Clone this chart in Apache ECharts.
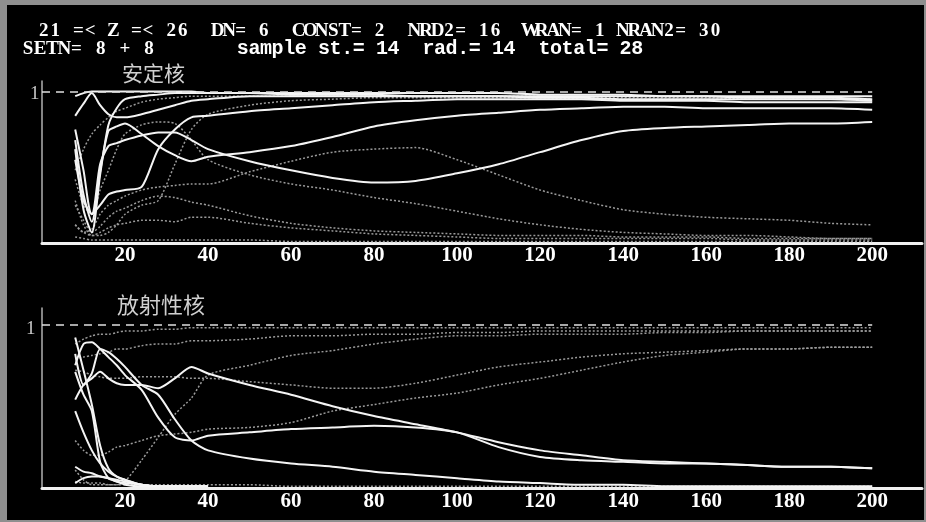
<!DOCTYPE html>
<html>
<head>
<meta charset="utf-8">
<script src="https://cdn.jsdelivr.net/npm/echarts@6/dist/echarts.min.js"></script>
<style>
html,body{margin:0;padding:0;background:#000;}
#myChart{width:926px;height:522px;}
</style>
</head>
<body>
<div id="myChart"></div>
<script>
// x positions shared by every curve
var xs = [8, 10, 12, 14, 16, 18, 20, 24, 28, 32, 36, 40, 50, 60, 70, 80, 90, 100, 110, 120, 130, 140, 150, 160, 170, 180, 190, 200];
var xTicks = [20, 40, 60, 80, 100, 120, 140, 160, 180, 200];

// 安定核 (upper panel) - solid curves
var stableSolid = [
  [0.97,0.99,1.0,1.0,1.0,1.0,1.0,1.0,1.0,1.0,1.0,0.99,0.99,0.99,0.99,0.99,0.99,0.99,0.99,0.98,0.98,0.98,0.97,0.97,0.97,0.97,0.97,0.97],
  [0.84,0.92,0.99,0.91,0.85,0.83,0.83,0.85,0.88,0.91,0.94,0.95,0.97,0.97,0.97,0.97,0.97,0.97,0.97,0.96,0.96,0.95,0.95,0.95,0.95,0.95,0.95,0.94],
  [0.75,0.48,0.19,0.25,0.32,0.34,0.35,0.37,0.62,0.75,0.83,0.84,0.87,0.89,0.91,0.93,0.94,0.95,0.95,0.95,0.95,0.94,0.94,0.94,0.93,0.93,0.93,0.93],
  [0.68,0.32,0.14,0.47,0.74,0.77,0.79,0.72,0.64,0.58,0.54,0.57,0.60,0.64,0.70,0.77,0.81,0.84,0.86,0.88,0.89,0.90,0.90,0.89,0.89,0.89,0.89,0.88],
  [0.55,0.28,0.19,0.52,0.64,0.66,0.68,0.71,0.73,0.73,0.68,0.62,0.54,0.48,0.43,0.40,0.41,0.46,0.52,0.60,0.68,0.74,0.76,0.77,0.78,0.79,0.79,0.80],
  [0.62,0.22,0.07,0.45,0.78,0.89,0.95,0.97,0.98,0.99,0.99,0.99,0.99,0.98,0.98,0.98,0.97,0.97,0.97,0.97,0.97,0.97,0.97,0.97,0.96,0.96,0.96,0.95]
];
// 安定核 - dotted curves
var stableDot = [
  [0.12,0.07,0.09,0.19,0.25,0.28,0.31,0.35,0.37,0.38,0.39,0.39,0.47,0.54,0.60,0.62,0.63,0.55,0.45,0.35,0.28,0.22,0.19,0.17,0.16,0.15,0.13,0.12],
  [0.42,0.25,0.19,0.35,0.48,0.62,0.72,0.78,0.80,0.79,0.68,0.55,0.45,0.39,0.35,0.30,0.26,0.21,0.16,0.12,0.09,0.07,0.06,0.05,0.05,0.04,0.03,0.03],
  [0.28,0.12,0.05,0.05,0.07,0.12,0.19,0.25,0.28,0.52,0.75,0.85,0.91,0.94,0.95,0.96,0.96,0.96,0.96,0.96,0.95,0.95,0.95,0.95,0.95,0.95,0.95,0.95],
  [0.25,0.15,0.07,0.11,0.17,0.21,0.23,0.28,0.31,0.30,0.27,0.25,0.18,0.13,0.10,0.08,0.07,0.06,0.05,0.05,0.05,0.04,0.04,0.04,0.03,0.03,0.03,0.03],
  [0.12,0.07,0.05,0.07,0.10,0.12,0.13,0.15,0.15,0.14,0.17,0.17,0.13,0.10,0.08,0.06,0.05,0.04,0.03,0.03,0.03,0.03,0.03,0.03,0.02,0.02,0.02,0.02],
  [0.04,0.03,0.02,0.02,0.02,0.02,0.02,0.02,0.02,0.02,0.02,0.02,0.02,0.01,0.01,0.01,0.01,0.01,0.01,0.01,0.01,0.01,0.01,0.01,0.01,0.01,0.01,0.01],
  [0.48,0.62,0.72,0.78,0.83,0.87,0.89,0.93,0.95,0.96,0.97,0.97,0.97,0.97,0.97,0.97,0.97,0.97,0.97,0.97,0.96,0.96,0.96,0.96,0.95,0.95,0.95,0.95]
];

// 放射性核 (lower panel) - solid curves
var radioSolid = [
  [0.82,0.63,0.70,0.85,0.83,0.79,0.74,0.63,0.57,0.42,0.29,0.23,0.18,0.15,0.13,0.10,0.08,0.06,0.04,0.03,0.02,0.02,0.01,0.01,0.01,0.01,0.01,0.01],
  [0.75,0.88,0.89,0.85,0.80,0.75,0.69,0.60,0.43,0.31,0.29,0.32,0.34,0.36,0.37,0.38,0.37,0.34,0.25,0.19,0.17,0.16,0.15,0.15,0.14,0.13,0.13,0.12],
  [0.54,0.63,0.67,0.71,0.67,0.64,0.63,0.63,0.61,0.67,0.74,0.70,0.63,0.57,0.50,0.44,0.39,0.34,0.28,0.23,0.20,0.17,0.16,0.15,0.14,0.13,0.13,0.12],
  [0.92,0.72,0.51,0.26,0.12,0.07,0.05,0.02,0.01,0.01,0.01,0.01,null,null,null,null,null,null,null,null,null,null,null,null,null,null,null,null],
  [0.47,0.34,0.23,0.15,0.10,0.07,0.05,0.02,0.01,0.01,0.01,0.01,null,null,null,null,null,null,null,null,null,null,null,null,null,null,null,null],
  [0.13,0.10,0.09,0.07,0.06,0.05,0.04,0.02,0.01,0.01,0.01,0.01,null,null,null,null,null,null,null,null,null,null,null,null,null,null,null,null],
  [0.03,0.06,0.07,0.07,0.06,0.04,0.03,0.02,0.01,0.01,0.01,0.01,null,null,null,null,null,null,null,null,null,null,null,null,null,null,null,null],
  [0.71,0.57,0.47,0.16,0.06,0.04,0.02,0.01,0.01,0.01,0.01,0.01,null,null,null,null,null,null,null,null,null,null,null,null,null,null,null,null]
];
// 放射性核 - dotted curves
var radioDot = [
  [0.88,0.91,0.93,0.94,0.94,0.95,0.96,0.96,0.97,0.97,0.98,0.98,0.98,0.98,0.98,0.98,0.98,0.98,0.98,0.98,0.98,0.98,0.98,0.98,0.98,0.98,0.98,0.98],
  [0.79,0.80,0.81,0.82,0.83,0.85,0.85,0.87,0.88,0.88,0.90,0.90,0.91,0.93,0.93,0.94,0.94,0.95,0.95,0.96,0.96,0.96,0.96,0.96,0.96,0.96,0.96,0.96],
  [0.72,0.71,0.69,0.68,0.67,0.67,0.67,0.68,0.68,0.68,0.67,0.67,0.65,0.63,0.61,0.61,0.64,0.69,0.74,0.77,0.80,0.82,0.83,0.84,0.85,0.85,0.86,0.86],
  [0.11,0.05,0.02,0.02,0.02,0.02,0.04,0.17,0.31,0.45,0.55,0.69,0.75,0.81,0.84,0.88,0.91,0.93,0.93,0.94,0.94,0.94,0.95,0.95,0.96,0.96,0.96,0.96],
  [0.29,0.23,0.20,0.20,0.22,0.25,0.26,0.29,0.32,0.33,0.34,0.36,0.37,0.40,0.47,0.51,0.55,0.58,0.63,0.67,0.72,0.77,0.81,0.83,0.85,0.85,0.86,0.86],
  [0.04,0.03,0.03,0.03,0.02,0.02,0.02,0.02,0.02,0.02,0.02,0.02,0.02,0.01,0.01,0.01,0.01,0.01,0.01,0.01,0.01,0.01,0.01,0.01,0.01,0.01,0.01,0.01]
];

// header lines, laid out on a fixed character grid like the DOS screen
var header1 = '21 =< Z =< 26  DN= 6  CONST= 2  NRD2= 16  WRAN= 1 NRAN2= 30';
var header2a = 'SETN= 8 + 8';
var header2b = 'sample st.= 14  rad.= 14  total= 28';

function pairs(ys){
  return xs.map(function(x, i){ return [x, ys[i]]; });
}

var series = [];
function addLines(list, panel, dotted){
  list.forEach(function(ys){
    series.push({
      type: 'line',
      xAxisIndex: panel,
      yAxisIndex: panel,
      data: pairs(ys),
      showSymbol: false,
      smooth: 0.25,
      z: dotted ? 2 : 3,
      lineStyle: dotted
        ? {color: '#9a9a9a', width: 1.5, type: [2, 2]}
        : {color: '#f4f4f4', width: 2}
    });
  });
}
addLines(stableDot, 0, true);
addLines(radioDot, 1, true);
addLines(stableSolid, 0, false);
addLines(radioSolid, 1, false);

// dashed reference line at 1 in both panels
[0, 1].forEach(function(p){
  series.push({
    type: 'line', xAxisIndex: p, yAxisIndex: p, data: [], z: 1,
    markLine: {
      silent: true, symbol: 'none', label: {show: false},
      lineStyle: {color: '#e0e0e0', width: 1.5, type: [8, 6]},
      data: [[{coord: [0, 1]}, {coord: [200, 1]}]]
    }
  });
});

function xAxisFor(i, margin){
  return {
    type: 'value', gridIndex: i, min: 0, max: 212, interval: 20,
    axisLine: {lineStyle: {color: '#f0f0f0', width: 3}},
    axisTick: {show: false},
    splitLine: {show: false},
    axisLabel: {
      color: '#fff', fontFamily: 'Liberation Serif', fontWeight: 'bold', fontSize: 21,
      margin: margin, showMaxLabel: false,
      formatter: function(v){ return xTicks.indexOf(v) >= 0 ? String(v) : ''; }
    }
  };
}
function yAxisFor(i, max){
  return {
    type: 'value', gridIndex: i, min: 0, max: max, interval: 1,
    axisLine: {show: true, lineStyle: {color: '#b0b0b0', width: 1.5}},
    axisTick: {show: false},
    splitLine: {show: false},
    axisLabel: {show: false}
  };
}

function txt(s, x, y, font, color){
  return {type: 'text', left: x, top: y, silent: true,
    style: {text: s, fill: color || '#fff', font: font}};
}
// one text element per character, centred in its cell
function gridText(s, x0, cy, cell, font){
  var out = [];
  for (var i = 0; i < s.length; i++) {
    if (s[i] === ' ') continue;
    out.push({type: 'text', x: x0 + (i + 0.5) * cell, y: cy, silent: true,
      style: {text: s[i], fill: '#fff', font: font, align: 'center', verticalAlign: 'middle'}});
  }
  return out;
}
var serifB = 'bold 19px "Liberation Serif"';
var monoB = 'bold 20px "Liberation Mono"';

var graphics = [
  // scanned grey border
  {type: 'rect', shape: {x: 0, y: 0, width: 7, height: 522}, style: {fill: '#8f8f8f'}},
  {type: 'rect', shape: {x: 0, y: 0, width: 926, height: 5}, style: {fill: '#8f8f8f'}},
  {type: 'rect', shape: {x: 924, y: 0, width: 2, height: 522}, style: {fill: '#8f8f8f'}},
  {type: 'rect', shape: {x: 0, y: 520, width: 926, height: 2}, style: {fill: '#8f8f8f'}},
  // panel titles and the "1" marks
  txt('安定核', 122, 63, '21px "Noto Sans CJK SC"', '#d0d0d0'),
  txt('放射性核', 117, 294, '22px "Noto Sans CJK SC"', '#d0d0d0'),
  txt('1', 30, 85, '19px "Liberation Serif"', '#c8c8c8'),
  txt('1', 26, 320, '19px "Liberation Serif"', '#c8c8c8')
];
graphics = graphics
  .concat(gridText(header1, 38, 31, 11.58, serifB))
  .concat(gridText(header2a, 22, 49, 12.1, serifB))
  .concat(gridText(header2b, 237, 49, 11.6, monoB));

var option = {
  backgroundColor: '#000',
  animation: false,
  grid: [
    {left: 42, top: 81, width: 880, height: 162},
    {left: 42, top: 308, width: 880, height: 180}
  ],
  xAxis: [xAxisFor(0, 2), xAxisFor(1, 3)],
  yAxis: [yAxisFor(0, 1.07), yAxisFor(1, 1.1)],
  graphic: graphics,
  series: series
};

var myChart = echarts.init(document.getElementById('myChart'));
myChart.setOption(option);
</script>
</body>
</html>
